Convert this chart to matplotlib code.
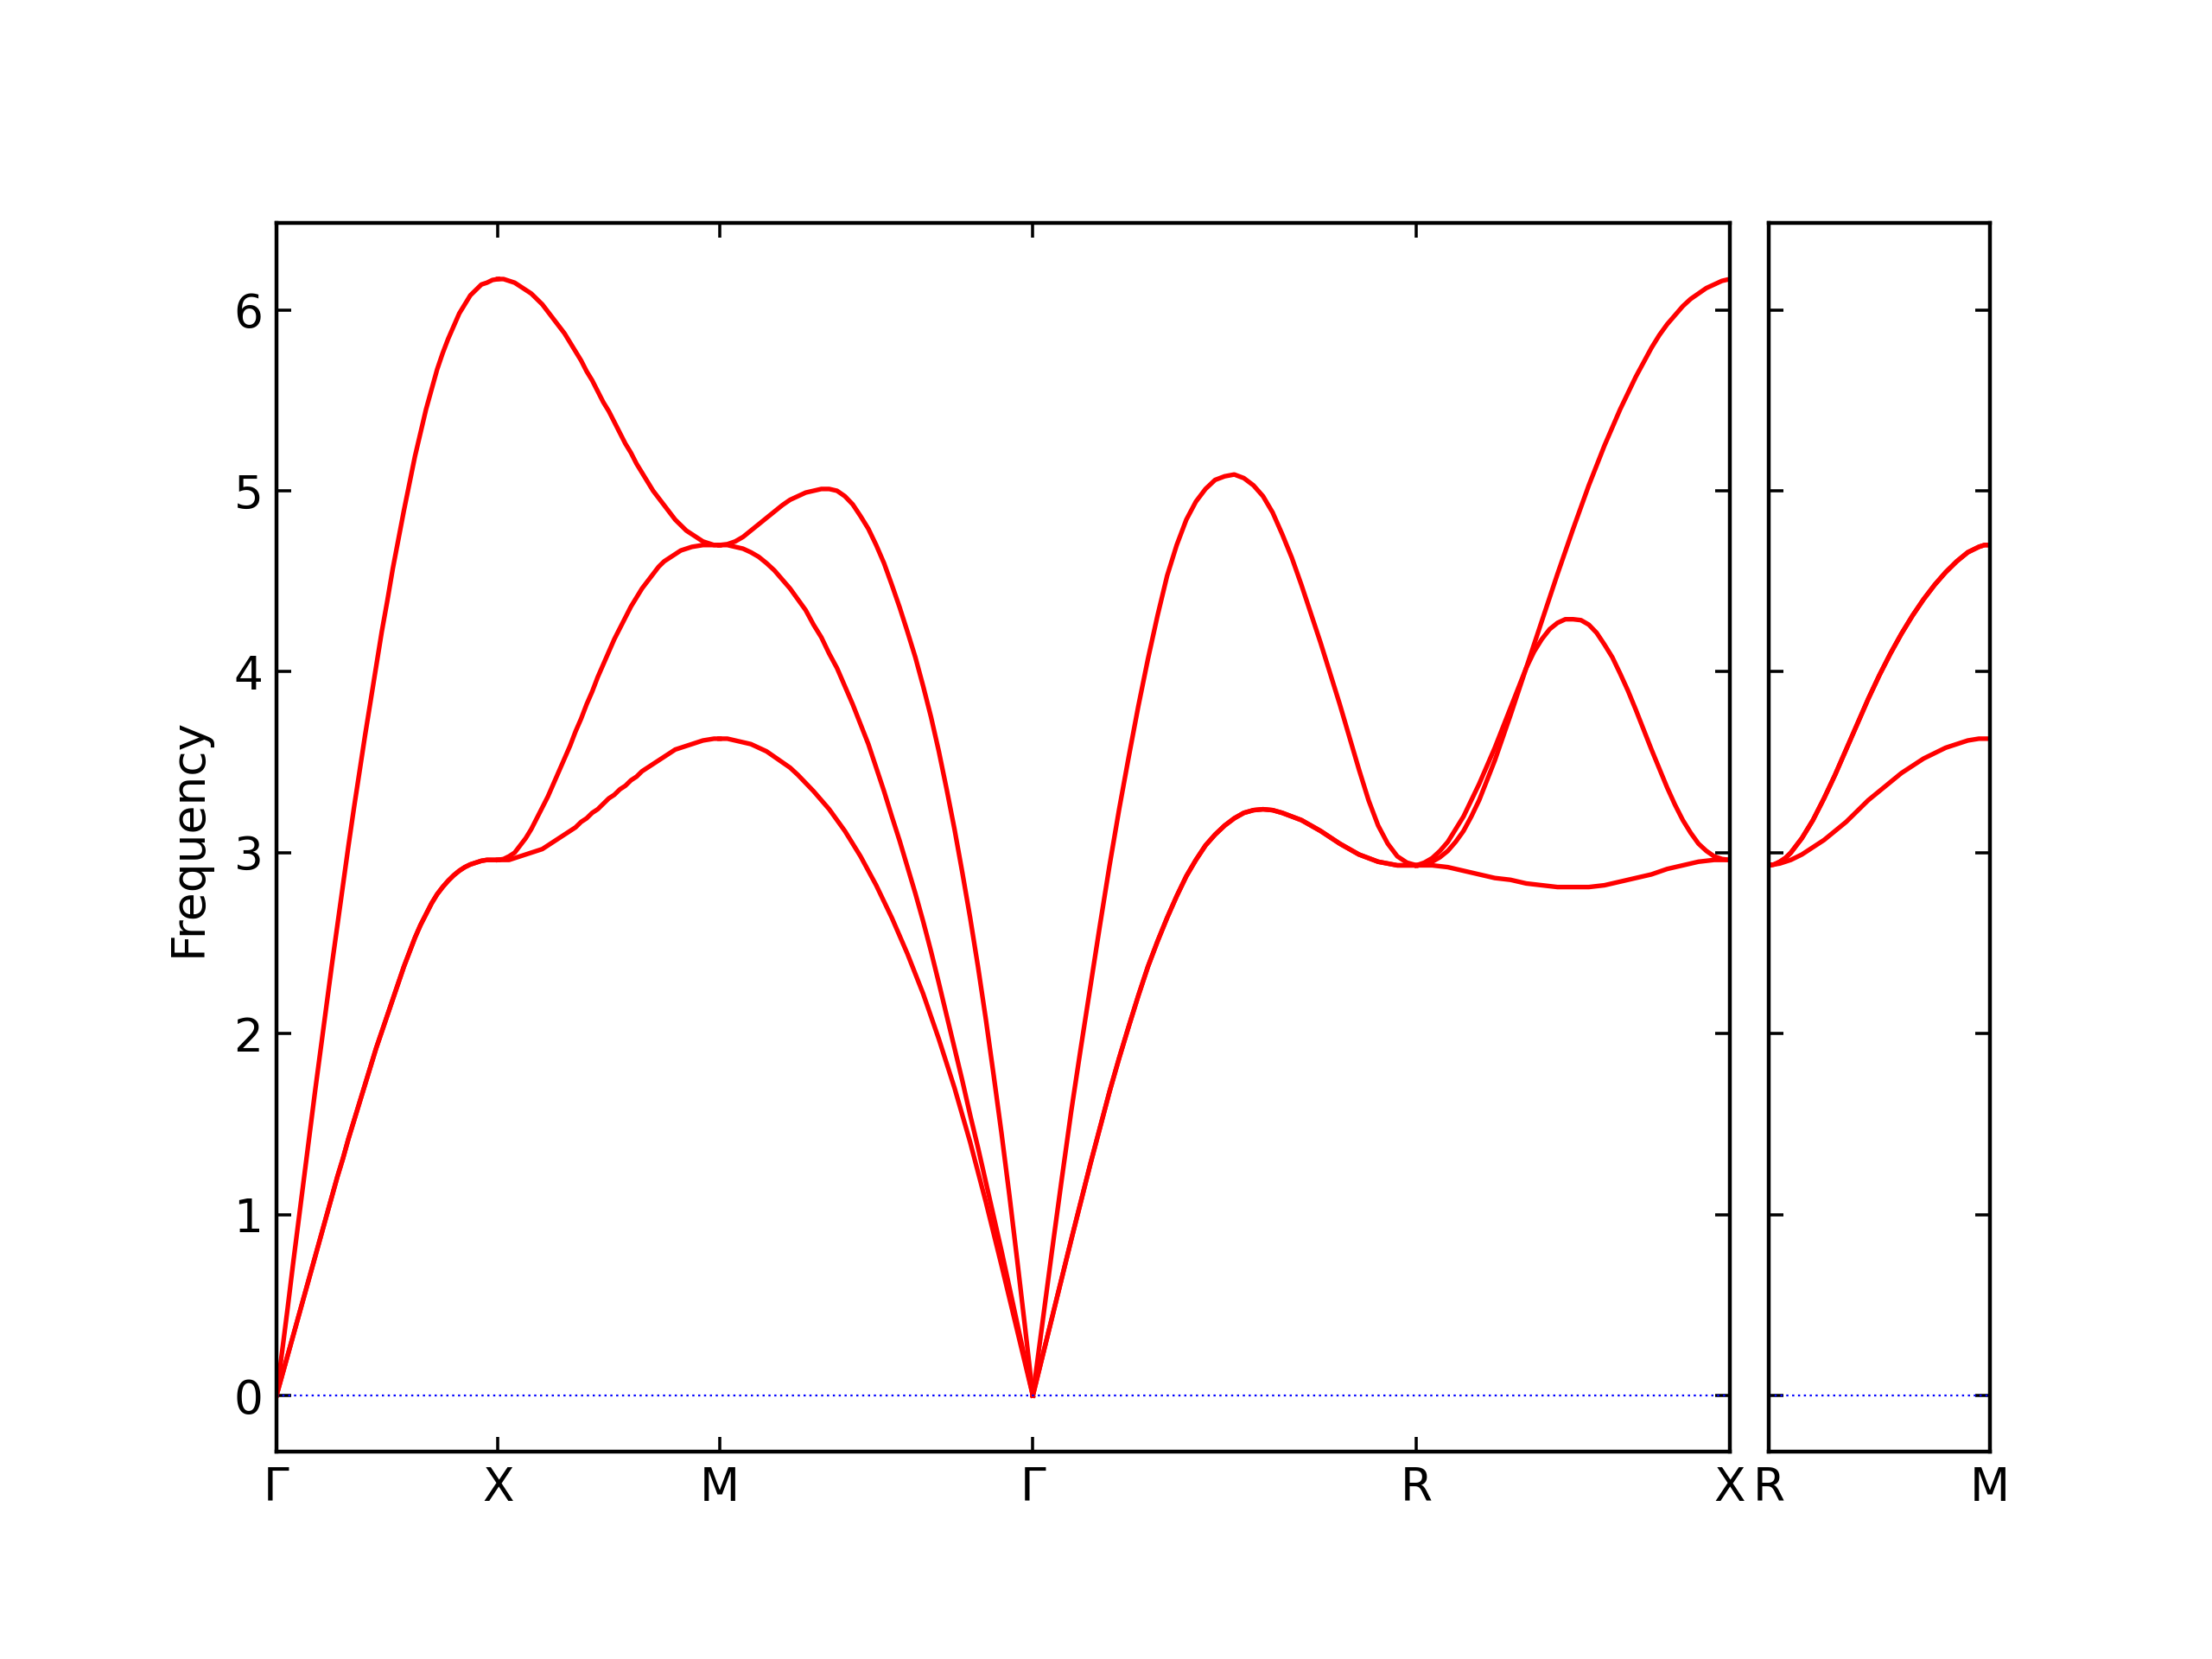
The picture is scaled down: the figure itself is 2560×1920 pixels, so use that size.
import matplotlib
matplotlib.use('Agg')
import matplotlib.pyplot as plt

plt.rcParams['font.family'] = ['DejaVu Sans']
plt.rcParams['font.size'] = 12
plt.rcParams['axes.linewidth'] = 1.0

# fraction along each path segment where the frequencies were read
q_frac = [0.0, 0.025, 0.05, 0.075, 0.1, 0.125, 0.15, 0.175, 0.2, 0.225,
          0.25, 0.275, 0.3, 0.325, 0.35, 0.375, 0.4, 0.425, 0.45, 0.475,
          0.5, 0.525, 0.55, 0.575, 0.6, 0.625, 0.65, 0.675, 0.7, 0.725,
          0.75, 0.775, 0.8, 0.825, 0.85, 0.875, 0.9, 0.925, 0.95, 0.975, 1.0]

# path lengths of the segments (G-X, X-M, M-G, G-R, R-X) and (R-M)
seg_len = [0.5, 0.5, 0.7071, 0.8660, 0.7071]
seg_len_right = [0.5]
labels_left = ['Γ', 'X', 'M', 'Γ', 'R', 'X']
labels_right = ['R', 'M']

# Gamma -> X (lower branch is doubly degenerate)
gx_upper = [0.00, 0.24, 0.48, 0.73, 0.97, 1.21, 1.45, 1.69, 1.92, 2.15,
            2.38, 2.60, 2.82, 3.04, 3.25, 3.45, 3.65, 3.84, 4.03, 4.22,
            4.39, 4.57, 4.73, 4.89, 5.04, 5.19, 5.32, 5.45, 5.56, 5.67,
            5.76, 5.84, 5.91, 5.98, 6.03, 6.08, 6.11, 6.14, 6.15, 6.165, 6.17]
gx_lower = [0.00, 0.11, 0.22, 0.33, 0.44, 0.55, 0.66, 0.77, 0.88, 0.99,
            1.10, 1.21, 1.31, 1.42, 1.52, 1.62, 1.72, 1.82, 1.92, 2.01,
            2.10, 2.19, 2.28, 2.37, 2.45, 2.53, 2.60, 2.66, 2.72, 2.77,
            2.81, 2.845, 2.875, 2.90, 2.92, 2.935, 2.945, 2.955, 2.96, 2.96, 2.96]

# X -> M
xm_upper = [6.17, 6.17, 6.16, 6.15, 6.13, 6.11, 6.09, 6.06, 6.03, 5.99,
            5.95, 5.91, 5.87, 5.82, 5.77, 5.72, 5.66, 5.61, 5.55, 5.49,
            5.44, 5.38, 5.32, 5.26, 5.21, 5.15, 5.10, 5.05, 5.00, 4.96,
            4.92, 4.88, 4.84, 4.81, 4.78, 4.76, 4.74, 4.72, 4.71, 4.70, 4.70]
xm_middle = [2.96, 2.965, 2.98, 3.00, 3.04, 3.08, 3.13, 3.19, 3.25, 3.31,
             3.38, 3.45, 3.52, 3.59, 3.67, 3.74, 3.82, 3.89, 3.97, 4.04,
             4.11, 4.18, 4.24, 4.30, 4.36, 4.41, 4.46, 4.50, 4.54, 4.58,
             4.61, 4.63, 4.65, 4.67, 4.68, 4.69, 4.695, 4.70, 4.70, 4.70, 4.70]
xm_lower = [2.96, 2.96, 2.96, 2.97, 2.98, 2.99, 3.00, 3.01, 3.02, 3.04,
            3.06, 3.08, 3.10, 3.12, 3.14, 3.17, 3.19, 3.22, 3.24, 3.27,
            3.30, 3.32, 3.35, 3.37, 3.40, 3.42, 3.45, 3.47, 3.49, 3.51,
            3.53, 3.55, 3.57, 3.58, 3.59, 3.60, 3.61, 3.62, 3.625, 3.63, 3.63]

# M -> Gamma
mg_upper = [4.70, 4.705, 4.72, 4.745, 4.78, 4.815, 4.85, 4.885, 4.92, 4.95,
            4.97, 4.99, 5.00, 5.01, 5.01, 5.00, 4.97, 4.925, 4.86, 4.79,
            4.70, 4.60, 4.48, 4.355, 4.22, 4.08, 3.92, 3.75, 3.56, 3.35,
            3.13, 2.89, 2.64, 2.37, 2.08, 1.77, 1.45, 1.11, 0.75, 0.38, 0.00]
mg_middle = [4.70, 4.70, 4.69, 4.68, 4.66, 4.635, 4.60, 4.56, 4.51, 4.46,
             4.40, 4.34, 4.26, 4.19, 4.10, 4.02, 3.92, 3.82, 3.71, 3.60,
             3.47, 3.34, 3.20, 3.065, 2.92, 2.775, 2.62, 2.455, 2.28, 2.10,
             1.92, 1.74, 1.55, 1.37, 1.18, 0.99, 0.80, 0.60, 0.40, 0.20, 0.00]
mg_lower = [3.63, 3.63, 3.62, 3.61, 3.60, 3.58, 3.56, 3.53, 3.50, 3.47,
            3.43, 3.385, 3.34, 3.29, 3.24, 3.18, 3.12, 3.05, 2.98, 2.90,
            2.82, 2.73, 2.64, 2.54, 2.44, 2.33, 2.22, 2.095, 1.97, 1.835,
            1.70, 1.55, 1.40, 1.235, 1.07, 0.895, 0.72, 0.54, 0.36, 0.18, 0.00]

# Gamma -> R (lower branch is doubly degenerate)
gr_upper = [0.00, 0.40, 0.80, 1.19, 1.57, 1.92, 2.26, 2.60, 2.93, 3.24,
            3.53, 3.81, 4.07, 4.31, 4.53, 4.70, 4.84, 4.94, 5.01, 5.06,
            5.08, 5.09, 5.07, 5.03, 4.97, 4.88, 4.76, 4.63, 4.48, 4.32,
            4.16, 3.99, 3.82, 3.64, 3.46, 3.29, 3.15, 3.05, 2.98, 2.945, 2.93]
gr_lower = [0.00, 0.215, 0.43, 0.645, 0.86, 1.07, 1.28, 1.48, 1.68, 1.865,
            2.04, 2.21, 2.37, 2.51, 2.64, 2.76, 2.87, 2.96, 3.04, 3.10,
            3.15, 3.19, 3.22, 3.235, 3.24, 3.235, 3.22, 3.20, 3.18, 3.15,
            3.12, 3.085, 3.05, 3.02, 2.99, 2.97, 2.95, 2.94, 2.93, 2.93, 2.93]

# R -> X
rx_a = [2.93, 2.935, 2.95, 2.975, 3.01, 3.06, 3.12, 3.20, 3.29, 3.40,
        3.51, 3.635, 3.76, 3.89, 4.02, 4.15, 4.28, 4.41, 4.54, 4.665,
        4.79, 4.91, 5.03, 5.14, 5.25, 5.35, 5.45, 5.54, 5.63, 5.71,
        5.79, 5.86, 5.92, 5.97, 6.02, 6.06, 6.09, 6.12, 6.14, 6.16, 6.17]
rx_b = [2.93, 2.945, 2.97, 3.01, 3.06, 3.13, 3.20, 3.29, 3.38, 3.48,
        3.58, 3.69, 3.80, 3.91, 4.02, 4.11, 4.18, 4.235, 4.27, 4.29,
        4.29, 4.285, 4.26, 4.215, 4.15, 4.08, 3.99, 3.895, 3.79, 3.68,
        3.57, 3.465, 3.36, 3.265, 3.18, 3.11, 3.05, 3.01, 2.98, 2.965, 2.96]
rx_c = [2.93, 2.93, 2.93, 2.925, 2.92, 2.91, 2.90, 2.89, 2.88, 2.87,
        2.86, 2.855, 2.85, 2.84, 2.83, 2.825, 2.82, 2.815, 2.81, 2.81,
        2.81, 2.81, 2.81, 2.815, 2.82, 2.83, 2.84, 2.85, 2.86, 2.87,
        2.88, 2.895, 2.91, 2.92, 2.93, 2.94, 2.95, 2.955, 2.96, 2.96, 2.96]

# R -> M (second panel, upper branch is doubly degenerate)
rm_upper = [2.93, 2.935, 2.95, 2.97, 3.00, 3.04, 3.08, 3.13, 3.18, 3.24,
            3.30, 3.365, 3.43, 3.50, 3.57, 3.64, 3.71, 3.78, 3.85, 3.915,
            3.98, 4.04, 4.10, 4.155, 4.21, 4.26, 4.31, 4.355, 4.40, 4.44,
            4.48, 4.515, 4.55, 4.58, 4.61, 4.635, 4.66, 4.675, 4.69, 4.70, 4.70]
rm_lower = [2.93, 2.935, 2.94, 2.95, 2.96, 2.975, 2.99, 3.01, 3.03, 3.05,
            3.07, 3.095, 3.12, 3.145, 3.17, 3.20, 3.23, 3.26, 3.29, 3.315,
            3.34, 3.365, 3.39, 3.415, 3.44, 3.46, 3.48, 3.50, 3.52, 3.535,
            3.55, 3.565, 3.58, 3.59, 3.60, 3.61, 3.62, 3.625, 3.63, 3.63, 3.63]

segments_left = [
    [gx_upper, gx_lower, gx_lower],
    [xm_upper, xm_middle, xm_lower],
    [mg_upper, mg_middle, mg_lower],
    [gr_upper, gr_lower, gr_lower],
    [rx_a, rx_b, rx_c],
]
segments_right = [
    [rm_upper, rm_upper, rm_lower],
]


def draw_path(ax, lengths, segments, labels):
    start = 0.0
    ticks = [0.0]
    for length, bands in zip(lengths, segments):
        dist = [start + f * length for f in q_frac]
        for freqs in bands:
            ax.plot(dist, freqs, 'r-', linewidth=1.2)
        start += length
        ticks.append(start)
    ax.axhline(y=0, linestyle=(0, (1.1, 1.95)), linewidth=0.5, color='b')
    ax.set_xlim(0, start)
    ax.set_ylim(-0.31, 6.48)
    ax.set_xticks(ticks)
    ax.set_xticklabels(labels)
    ax.set_yticks([0, 1, 2, 3, 4, 5, 6])
    ax.tick_params(direction='in', top=True, right=True, length=3.8,
                   width=0.8)


fig = plt.figure(figsize=(8, 6), dpi=320)
ax1 = fig.add_axes([0.125, 0.125, 0.657, 0.7406])
ax2 = fig.add_axes([0.7996, 0.125, 0.1, 0.7406])

draw_path(ax1, seg_len, segments_left, labels_left)
draw_path(ax2, seg_len_right, segments_right, labels_right)
ax2.set_yticklabels([])
ax1.set_ylabel('Frequency', labelpad=6)

plt.savefig('out.png', dpi=320)
